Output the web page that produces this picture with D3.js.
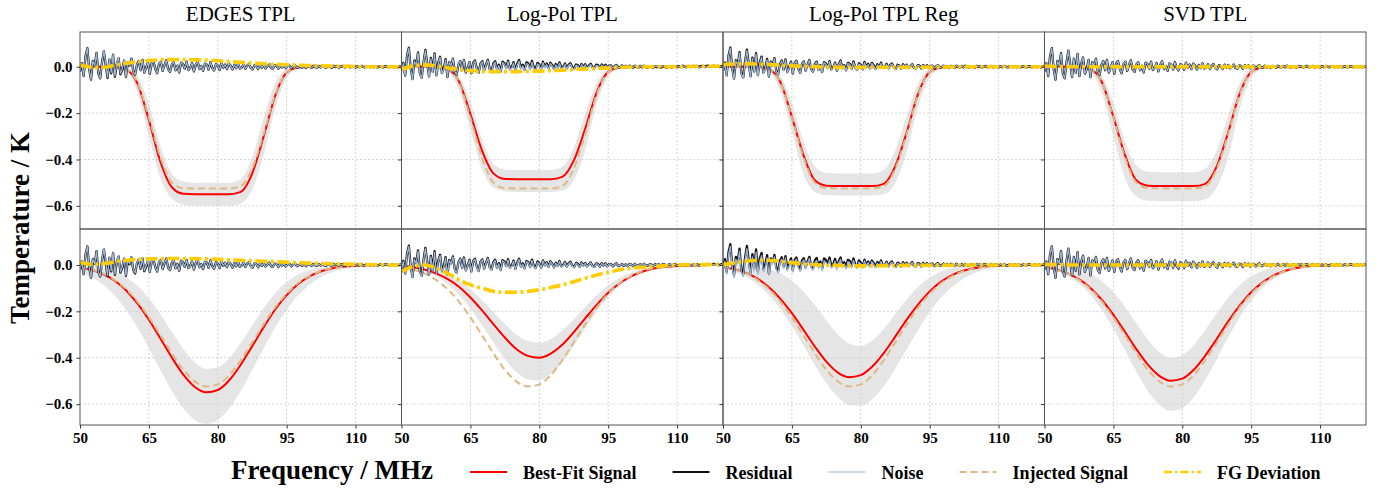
<!DOCTYPE html>
<html>
<head>
<meta charset="utf-8">
<script src="https://cdn.jsdelivr.net/npm/d3@7"></script>
<style>
  body { margin: 0; background: #fff; }
  svg text { font-family: "Liberation Serif", "Times New Roman", serif; }
</style>
</head>
<body>
<svg id="chart" width="1379" height="492"></svg>
<script>
// frequency grid (MHz) the smooth curves are read on
const freqGrid = [50, 52.5, 55, 57.5, 60, 62.5, 65, 67.5, 70, 72.5, 75, 77.5, 80, 82.5, 85, 87.5, 90, 92.5, 95, 97.5, 100, 102.5, 105, 107.5, 110, 112.5, 115, 117.5, 120];
const xTicks = [50, 65, 80, 95, 110];
const yTicks = [0, -0.2, -0.4, -0.6];
const methods = ['EDGES TPL', 'Log-Pol TPL', 'Log-Pol TPL Reg', 'SVD TPL'];
const legendLabels = ['Best-Fit Signal', 'Residual', 'Noise', 'Injected Signal', 'FG Deviation'];

// injected signals (K)
const injectedTop = [0, 0, 0, -0.001, -0.010, -0.068, -0.22, -0.39, -0.50, -0.524, -0.525, -0.525, -0.525, -0.525, -0.515, -0.44, -0.29, -0.12, -0.024, -0.003, 0, 0, 0, 0, 0, 0, 0, 0, 0];
const injectedBottom = [-0.010, -0.020, -0.037, -0.064, -0.104, -0.158, -0.226, -0.302, -0.381, -0.452, -0.502, -0.524, -0.515, -0.475, -0.411, -0.334, -0.256, -0.183, -0.124, -0.078, -0.047, -0.026, -0.014, -0.007, -0.003, -0.001, 0, 0, 0];

// top row: best fit, band upper, band lower, FG deviation
const fitEdgesTop = [0, 0, 0, -0.001, -0.011, -0.072, -0.23, -0.41, -0.52, -0.548, -0.55, -0.55, -0.55, -0.55, -0.54, -0.46, -0.30, -0.125, -0.025, -0.003, 0, 0, 0, 0, 0, 0, 0, 0, 0];
const hiEdgesTop = [0, 0, 0, 0, -0.004, -0.04, -0.16, -0.34, -0.46, -0.495, -0.5, -0.5, -0.5, -0.5, -0.485, -0.39, -0.22, -0.07, -0.01, 0, 0, 0, 0, 0, 0, 0, 0, 0, 0];
const loEdgesTop = [0, 0, -0.001, -0.004, -0.02, -0.11, -0.30, -0.48, -0.57, -0.595, -0.6, -0.6, -0.6, -0.6, -0.59, -0.53, -0.38, -0.18, -0.05, -0.01, -0.002, 0, 0, 0, 0, 0, 0, 0, 0];
const fgEdgesTop = [0.008, -0.002, -0.003, 0.006, 0.015, 0.022, 0.027, 0.030, 0.031, 0.031, 0.030, 0.029, 0.026, 0.022, 0.019, 0.016, 0.013, 0.011, 0.009, 0.007, 0.005, 0.004, 0.003, 0.002, 0.001, 0, 0, 0, 0];

const fitLogPolTop = [0, 0, 0, -0.001, -0.010, -0.063, -0.204, -0.36, -0.46, -0.484, -0.485, -0.485, -0.485, -0.485, -0.475, -0.405, -0.267, -0.11, -0.022, -0.003, 0, 0, 0, 0, 0, 0, 0, 0, 0];
const hiLogPolTop = [0, 0, 0, 0, -0.004, -0.04, -0.15, -0.31, -0.42, -0.443, -0.445, -0.445, -0.445, -0.445, -0.43, -0.35, -0.2, -0.07, -0.01, 0, 0, 0, 0, 0, 0, 0, 0, 0, 0];
const loLogPolTop = [0, 0, 0, -0.003, -0.018, -0.1, -0.27, -0.44, -0.52, -0.537, -0.54, -0.54, -0.54, -0.54, -0.535, -0.49, -0.36, -0.16, -0.045, -0.008, -0.001, 0, 0, 0, 0, 0, 0, 0, 0];
const fgLogPolTop = [-0.012, 0.004, 0.008, 0.004, -0.004, -0.012, -0.017, -0.020, -0.021, -0.021, -0.021, -0.020, -0.019, -0.017, -0.015, -0.012, -0.010, -0.007, -0.005, -0.003, -0.001, 0, 0, 0, 0, 0.001, 0.002, 0.002, 0.002];

const fitLogPolRegTop = [0, 0, 0, -0.001, -0.010, -0.067, -0.216, -0.38, -0.49, -0.513, -0.515, -0.515, -0.515, -0.515, -0.505, -0.43, -0.283, -0.116, -0.023, -0.003, 0, 0, 0, 0, 0, 0, 0, 0, 0];
const hiLogPolRegTop = [0, 0, 0, 0, -0.004, -0.04, -0.155, -0.32, -0.43, -0.458, -0.46, -0.46, -0.46, -0.46, -0.445, -0.36, -0.21, -0.07, -0.01, 0, 0, 0, 0, 0, 0, 0, 0, 0, 0];
const loLogPolRegTop = [0, 0, 0, -0.003, -0.02, -0.105, -0.28, -0.46, -0.54, -0.553, -0.555, -0.555, -0.555, -0.555, -0.55, -0.5, -0.37, -0.17, -0.048, -0.008, -0.001, 0, 0, 0, 0, 0, 0, 0, 0];
const fgLogPolRegTop = [0.010, 0.012, 0.013, 0.012, 0.010, 0.007, 0.004, 0.002, 0, -0.001, -0.002, -0.002, -0.002, -0.002, -0.002, -0.002, -0.002, -0.002, -0.002, -0.001, -0.001, 0, 0, 0, 0, 0, 0, 0, 0];

const fitSvdTop = [0, 0, 0, -0.001, -0.010, -0.067, -0.216, -0.38, -0.49, -0.513, -0.515, -0.515, -0.515, -0.515, -0.505, -0.43, -0.283, -0.116, -0.023, -0.003, 0, 0, 0, 0, 0, 0, 0, 0, 0];
const hiSvdTop = [0, 0, 0, 0, -0.004, -0.04, -0.155, -0.32, -0.425, -0.453, -0.455, -0.455, -0.455, -0.455, -0.44, -0.36, -0.21, -0.07, -0.01, 0, 0, 0, 0, 0, 0, 0, 0, 0, 0];
const loSvdTop = [0, 0, 0, -0.004, -0.022, -0.115, -0.3, -0.48, -0.56, -0.578, -0.58, -0.58, -0.58, -0.58, -0.572, -0.52, -0.39, -0.18, -0.05, -0.009, -0.001, 0, 0, 0, 0, 0, 0, 0, 0];
const fgSvdTop = [0.003, 0.001, 0, 0, 0, 0, 0, 0, 0, 0, 0, 0, 0, 0, 0, 0, 0, 0, 0, 0, 0, 0, 0, 0, 0, 0, 0, 0, 0];

// bottom row
const fitEdgesBottom = [-0.011, -0.021, -0.039, -0.067, -0.109, -0.166, -0.236, -0.317, -0.399, -0.473, -0.526, -0.549, -0.539, -0.497, -0.430, -0.350, -0.268, -0.192, -0.130, -0.082, -0.049, -0.027, -0.014, -0.007, -0.003, -0.001, 0, 0, 0];
const hiEdgesBottom = [-0.003, -0.006, -0.014, -0.028, -0.052, -0.090, -0.144, -0.212, -0.288, -0.362, -0.419, -0.448, -0.442, -0.402, -0.337, -0.261, -0.186, -0.122, -0.074, -0.042, -0.022, -0.010, -0.005, -0.002, -0.001, 0, 0, 0, 0];
const loEdgesBottom = [-0.030, -0.052, -0.085, -0.131, -0.193, -0.270, -0.359, -0.453, -0.543, -0.618, -0.668, -0.685, -0.668, -0.618, -0.543, -0.453, -0.359, -0.270, -0.193, -0.131, -0.085, -0.052, -0.030, -0.017, -0.009, -0.004, -0.002, -0.001, 0];
const fgEdgesBottom = [0.012, 0.003, 0.005, 0.013, 0.020, 0.024, 0.026, 0.027, 0.028, 0.028, 0.027, 0.026, 0.024, 0.022, 0.020, 0.018, 0.016, 0.014, 0.012, 0.010, 0.008, 0.006, 0.005, 0.004, 0.003, 0.002, 0.001, 0, 0];

const fitLogPolBottom = [-0.005, -0.010, -0.020, -0.036, -0.060, -0.094, -0.140, -0.195, -0.255, -0.313, -0.362, -0.392, -0.400, -0.382, -0.344, -0.290, -0.230, -0.172, -0.120, -0.079, -0.049, -0.028, -0.015, -0.008, -0.004, -0.002, -0.001, 0, 0];
const hiLogPolBottom = [-0.003, -0.006, -0.012, -0.023, -0.041, -0.068, -0.105, -0.151, -0.203, -0.255, -0.300, -0.328, -0.335, -0.319, -0.283, -0.235, -0.182, -0.131, -0.089, -0.056, -0.033, -0.018, -0.009, -0.004, -0.002, -0.001, 0, 0, 0];
const loLogPolBottom = [-0.007, -0.015, -0.028, -0.050, -0.082, -0.128, -0.188, -0.258, -0.334, -0.405, -0.462, -0.494, -0.498, -0.470, -0.418, -0.348, -0.273, -0.201, -0.139, -0.090, -0.055, -0.032, -0.017, -0.009, -0.004, -0.002, -0.001, 0, 0];
const fgLogPolBottom = [-0.029, -0.007, 0, -0.014, -0.035, -0.064, -0.086, -0.100, -0.114, -0.118, -0.118, -0.114, -0.107, -0.097, -0.086, -0.072, -0.057, -0.043, -0.032, -0.021, -0.014, -0.010, -0.007, -0.003, 0, 0.001, 0.001, 0.002, 0.003];

const fitLogPolRegBottom = [-0.010, -0.019, -0.034, -0.059, -0.096, -0.146, -0.208, -0.279, -0.352, -0.417, -0.464, -0.484, -0.475, -0.438, -0.380, -0.309, -0.236, -0.170, -0.114, -0.072, -0.043, -0.024, -0.013, -0.006, -0.003, -0.001, -0.001, 0, 0];
const hiLogPolRegBottom = [0, -0.001, -0.003, -0.008, -0.018, -0.037, -0.068, -0.114, -0.173, -0.239, -0.299, -0.339, -0.350, -0.326, -0.276, -0.212, -0.148, -0.094, -0.054, -0.028, -0.013, -0.006, -0.002, -0.001, 0, 0, 0, 0, 0];
const loLogPolRegBottom = [-0.017, -0.030, -0.051, -0.084, -0.130, -0.190, -0.263, -0.346, -0.431, -0.509, -0.569, -0.604, -0.607, -0.579, -0.523, -0.447, -0.363, -0.279, -0.203, -0.140, -0.092, -0.057, -0.034, -0.019, -0.010, -0.005, -0.002, -0.001, 0];
const fgLogPolRegBottom = [0, 0.010, 0.016, 0.020, 0.020, 0.016, 0.010, 0.004, 0.001, -0.001, -0.002, -0.004, -0.004, -0.004, -0.003, -0.003, -0.002, -0.002, -0.001, -0.001, -0.001, 0, 0, 0, 0, 0, 0, 0, 0];

const fitSvdBottom = [-0.010, -0.019, -0.036, -0.061, -0.099, -0.151, -0.215, -0.288, -0.363, -0.430, -0.478, -0.499, -0.490, -0.452, -0.391, -0.319, -0.243, -0.175, -0.118, -0.075, -0.044, -0.025, -0.013, -0.006, -0.003, -0.001, -0.001, 0, 0];
const hiSvdBottom = [-0.001, -0.004, -0.009, -0.019, -0.038, -0.070, -0.117, -0.180, -0.251, -0.321, -0.375, -0.400, -0.389, -0.345, -0.280, -0.208, -0.141, -0.087, -0.049, -0.025, -0.012, -0.005, -0.002, -0.001, 0, 0, 0, 0, 0];
const loSvdBottom = [-0.013, -0.026, -0.047, -0.080, -0.129, -0.194, -0.275, -0.367, -0.460, -0.543, -0.603, -0.630, -0.618, -0.570, -0.496, -0.405, -0.311, -0.225, -0.153, -0.098, -0.059, -0.033, -0.018, -0.009, -0.004, -0.002, -0.001, 0, 0];
const fgSvdBottom = [0.002, 0.001, 0, 0, 0, 0, 0, 0, 0, 0, 0, 0, 0, 0, 0, 0, 0, 0, 0, 0, 0, 0, 0, 0, 0, 0, 0, 0, 0];

// thermal noise (mK), one sample every 0.4 MHz from 50 MHz
const noiseMK = [
  -20, 15, -40, 45, 80, -10, -55, 25, 5, 60,
  -30, -50, 20, 70, 10, -45, 35, -25, 55, -40,
  15, 40, -30, -10, 30, -45, 20, 5, 35, -20,
  -35, 10, 25, -15, 30, -25, -5, 20, -30, 15,
  25, -10, -28, 12, 22, -18, 8, 28, -12, -22,
  10, 20, -15, 5, -25, 18, 12, -8, 22, -14,
  -5, 16, -20, 8, 24, -10, 4, -18, 14, 10,
  -12, 20, -6, -16, 12, 6, -14, 18, -4, 10,
  -10, 14, 4, -12, 8, -6, 15, -8, -3, 11,
  -9, 6, 12, -5, -11, 7, 3, -10, 9, -4,
  8, -7, 2, 10, -6, -8, 6, 4, -9, 7,
  -3, 6, -7, 4, 5, -6, 2, 7, -5, -2,
  5, -4, 3, -6, 4, 2, -5, 5, -2, -4,
  4, -3, 5, -2, -4, 3, 2, -5, 4, -1,
  3, -4, 2, 4, -3, -1, 4, -3, 2, 3,
  -3, 2, -2, 4, -1, -3, 3, 1, -2, 3,
  -2, 3, -3, 1, 2, -3, 2, 3, -2, -1,
  3, -2, 2, -3, 1, 2
];
const noiseStep = 0.4;

// residual minus noise (mK), per 5 MHz block
const residOffEdgesTop = [0, -3, 0, 0, 0, 0, 0, 0, 0, 0, 0, 0, 0, 0];
const residOffLogPolTop = [2, 3, 0, 2, 4, 5, 4, 3, 3, 1, 0, -1, 1, 2];
const residOffLogPolRegTop = [3, 4, 2, 1, 2, 3, 3, 2, 1, 0, 0, 0, 0, 0];
const residOffSvdTop = [0, 0, 0, 0, 0, 0, 0, 0, 0, 0, 0, 0, 0, 0];
const residOffEdgesBottom = [0, -3, -2, 0, 0, 0, 0, 0, 0, 0, 0, 0, 0, 0];
const residOffLogPolBottom = [3, 4, 2, 2, 3, 3, 2, 2, 1, 0, 0, 0, 0, 2];
const residOffLogPolRegBottom = [10, 12, 8, 7, 10, 8, 5, 3, 2, 1, 0, 0, 0, 0];
const residOffSvdBottom = [0, 0, 0, 0, 0, 0, 0, 0, 0, 0, 0, 0, 0, 0];

const panels = [
  { row: 0, col: 0, inj: injectedTop, fit: fitEdgesTop, hi: hiEdgesTop, lo: loEdgesTop, fg: fgEdgesTop, off: residOffEdgesTop },
  { row: 0, col: 1, inj: injectedTop, fit: fitLogPolTop, hi: hiLogPolTop, lo: loLogPolTop, fg: fgLogPolTop, off: residOffLogPolTop },
  { row: 0, col: 2, inj: injectedTop, fit: fitLogPolRegTop, hi: hiLogPolRegTop, lo: loLogPolRegTop, fg: fgLogPolRegTop, off: residOffLogPolRegTop },
  { row: 0, col: 3, inj: injectedTop, fit: fitSvdTop, hi: hiSvdTop, lo: loSvdTop, fg: fgSvdTop, off: residOffSvdTop },
  { row: 1, col: 0, inj: injectedBottom, fit: fitEdgesBottom, hi: hiEdgesBottom, lo: loEdgesBottom, fg: fgEdgesBottom, off: residOffEdgesBottom },
  { row: 1, col: 1, inj: injectedBottom, fit: fitLogPolBottom, hi: hiLogPolBottom, lo: loLogPolBottom, fg: fgLogPolBottom, off: residOffLogPolBottom },
  { row: 1, col: 2, inj: injectedBottom, fit: fitLogPolRegBottom, hi: hiLogPolRegBottom, lo: loLogPolRegBottom, fg: fgLogPolRegBottom, off: residOffLogPolRegBottom },
  { row: 1, col: 3, inj: injectedBottom, fit: fitSvdBottom, hi: hiSvdBottom, lo: loSvdBottom, fg: fgSvdBottom, off: residOffSvdBottom }
];

// layout
const left = 80, panelW = 321.5;
const rowTop = [32, 229], rowH = [197, 196];
const rowDomain = [[-0.7, 0.15], [-0.69, 0.155]];

const colors = { fit: '#ff0000', resid: '#111111', noise: '#9db4d3', inj: '#deb887', fg: '#ffcc00', band: '#d3d3d3' };

const svg = d3.select('#chart');
svg.append('rect').attr('width', 1379).attr('height', 492).attr('fill', '#fff');

const fmtY = d3.format('.1f');

panels.forEach((p, k) => {
  const x0 = left + p.col * panelW, y0 = rowTop[p.row], h = rowH[p.row];
  const x = d3.scaleLinear().domain([50, 120]).range([x0, x0 + panelW]);
  const y = d3.scaleLinear().domain(rowDomain[p.row]).range([y0 + h, y0]);

  svg.append('clipPath').attr('id', 'clip' + k)
    .append('rect').attr('x', x0).attr('y', y0).attr('width', panelW).attr('height', h);

  const g = svg.append('g');

  // grid
  g.selectAll('.vg').data(xTicks.slice(1)).join('line')
    .attr('x1', d => x(d)).attr('x2', d => x(d)).attr('y1', y0).attr('y2', y0 + h)
    .attr('stroke', '#b5b5b5').attr('stroke-width', 0.6).attr('stroke-dasharray', '2,2');
  g.selectAll('.hg').data(yTicks).join('line')
    .attr('x1', x0).attr('x2', x0 + panelW).attr('y1', d => y(d)).attr('y2', d => y(d))
    .attr('stroke', '#b5b5b5').attr('stroke-width', 0.6).attr('stroke-dasharray', '2,2');

  const plot = g.append('g').attr('clip-path', `url(#clip${k})`);
  const pts = arr => freqGrid.map((f, i) => [f, arr[i]]);

  // uncertainty band
  plot.append('path')
    .datum(freqGrid.map((f, i) => [f, p.lo[i], p.hi[i]]))
    .attr('fill', colors.band).attr('fill-opacity', 0.6)
    .attr('d', d3.area().x(d => x(d[0])).y0(d => y(d[1])).y1(d => y(d[2])).curve(d3.curveMonotoneX));

  const smooth = d3.line().x(d => x(d[0])).y(d => y(d[1])).curve(d3.curveMonotoneX);

  plot.append('path').datum(pts(p.fit))
    .attr('fill', 'none').attr('stroke', colors.fit).attr('stroke-width', 2).attr('d', smooth);
  plot.append('path').datum(pts(p.inj))
    .attr('fill', 'none').attr('stroke', colors.inj).attr('stroke-width', 2)
    .attr('stroke-dasharray', '7,4').attr('d', smooth);

  const noisePts = noiseMK.map((v, i) => [50 + i * noiseStep, v / 1000]);
  const residPts = noiseMK.map((v, i) => {
    const f = 50 + i * noiseStep;
    const b = Math.min(p.off.length - 1, Math.floor((f - 50) / 5));
    return [f, (v + p.off[b]) / 1000];
  });
  const jag = d3.line().x(d => x(d[0])).y(d => y(d[1]));
  plot.append('path').datum(residPts)
    .attr('fill', 'none').attr('stroke', colors.resid).attr('stroke-width', 2.3)
    .attr('stroke-linejoin', 'round').attr('d', jag);
  plot.append('path').datum(noisePts)
    .attr('fill', 'none').attr('stroke', colors.noise).attr('stroke-width', 1.3)
    .attr('stroke-linejoin', 'round').attr('d', jag);

  plot.append('path').datum(pts(p.fg))
    .attr('fill', 'none').attr('stroke', colors.fg).attr('stroke-width', 3.6)
    .attr('stroke-dasharray', '12,3.5,3,3.5').attr('d', smooth);

  // y axis ticks (labels only on first column)
  const ya = g.append('g').attr('transform', `translate(${x0},0)`)
    .call(d3.axisLeft(y).tickValues(yTicks).tickSize(3.5).tickPadding(4)
      .tickFormat(p.col === 0 ? fmtY : ''));
  ya.select('.domain').remove();
  ya.selectAll('line').attr('stroke', '#333');
  ya.selectAll('text').attr('font-size', 15).attr('font-weight', 'bold').attr('fill', '#000')
    .style('font-family', '"Liberation Serif", serif');

  if (p.row === 1) {
    const xa = g.append('g').attr('transform', `translate(0,${y0 + h})`)
      .call(d3.axisBottom(x).tickValues(xTicks).tickSize(3.5).tickPadding(4).tickFormat(d3.format('d')));
    xa.select('.domain').remove();
    xa.selectAll('line').attr('stroke', '#333');
    xa.selectAll('text').attr('font-size', 15).attr('font-weight', 'bold').attr('fill', '#000')
      .style('font-family', '"Liberation Serif", serif');
  } else {
    svg.append('text').attr('x', x0 + panelW / 2).attr('y', 21)
      .attr('text-anchor', 'middle').attr('font-size', 21).text(methods[p.col]);
  }

  g.append('rect').attr('x', x0).attr('y', y0).attr('width', panelW).attr('height', h)
    .attr('fill', 'none').attr('stroke', '#555').attr('stroke-width', 1);
});

// axis labels
svg.append('text').attr('transform', 'translate(29,228) rotate(-90)')
  .attr('text-anchor', 'middle').attr('font-size', 27).attr('font-weight', 'bold')
  .text('Temperature / K');
svg.append('text').attr('x', 332).attr('y', 479)
  .attr('text-anchor', 'middle').attr('font-size', 27).attr('font-weight', 'bold')
  .text('Frequency / MHz');

// legend
const legendStyles = [
  { stroke: colors.fit, width: 2, dash: null },
  { stroke: colors.resid, width: 2, dash: null },
  { stroke: colors.noise, width: 1.2, dash: null },
  { stroke: colors.inj, width: 2, dash: '7,4' },
  { stroke: colors.fg, width: 2.5, dash: '8,3,2.5,3' }
];
let lx = 470;
legendLabels.forEach((lab, i) => {
  const s = legendStyles[i];
  svg.append('line').attr('x1', lx).attr('x2', lx + 37).attr('y1', 472).attr('y2', 472)
    .attr('stroke', s.stroke).attr('stroke-width', s.width).attr('stroke-dasharray', s.dash);
  const t = svg.append('text').attr('x', lx + 53).attr('y', 479)
    .attr('font-size', 18).attr('font-weight', 'bold').text(lab);
  lx = lx + 53 + t.node().getComputedTextLength() + 36;
});
</script>
</body>
</html>
